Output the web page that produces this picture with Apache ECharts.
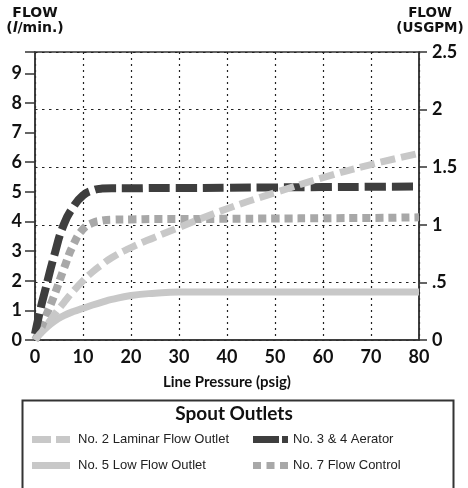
<!DOCTYPE html>
<html>
<head>
<meta charset="utf-8">
<script src="https://cdn.jsdelivr.net/npm/echarts@6/dist/echarts.min.js"></script>
<style>html,body{margin:0;padding:0;background:#fff;}#c{width:468px;height:488px;}</style>
</head>
<body>
<div id="c"></div>
<script>
var pressure = [0, 1, 2, 4, 6, 8, 10, 12, 14, 16, 20, 25, 30, 40, 50, 60, 70, 80];
var laminar  = [0.0, 0.2, 0.4, 0.85, 1.26, 1.65, 2.0, 2.3, 2.55, 2.78, 3.12, 3.47, 3.8, 4.43, 4.97, 5.48, 5.92, 6.3];
var aerator  = [0.2, 0.95, 1.6, 2.85, 3.9, 4.5, 4.88, 5.05, 5.11, 5.12, 5.12, 5.13, 5.13, 5.14, 5.15, 5.16, 5.17, 5.18];
var lowFlow  = [0.05, 0.2, 0.36, 0.63, 0.82, 0.96, 1.07, 1.18, 1.28, 1.37, 1.5, 1.58, 1.62, 1.62, 1.62, 1.62, 1.62, 1.62];
var flowCtrl = [0.0, 0.3, 0.7, 1.5, 2.4, 3.22, 3.74, 3.95, 4.03, 4.06, 4.07, 4.08, 4.08, 4.09, 4.1, 4.11, 4.12, 4.14];
var seriesNames = ['No. 2 Laminar Flow Outlet', 'No. 3 & 4 Aerator', 'No. 5 Low Flow Outlet', 'No. 7 Flow Control'];
var xTicks = [0, 10, 20, 30, 40, 50, 60, 70, 80];
var leftTicks = [0, 1, 2, 3, 4, 5, 6, 7, 8, 9];
var rightTickLabels = {'0': '0', '0.5': '.5', '1': '1', '1.5': '1.5', '2': '2', '2.5': '2.5'};

function pairs(ys) { return pressure.map(function (p, i) { return [p, ys[i]]; }); }

var numFont = 'Lato';
var chart = echarts.init(document.getElementById('c'), null, {renderer: 'canvas'});
var lightGray = '#c8c8c8', midGray = '#a8a8a8', dark = '#3e3e3e';

var option = {
  animation: false,
  backgroundColor: '#fff',
  title: {
    text: 'Spout Outlets',
    left: 'center',
    top: 404,
    padding: [0, 0, 0, 9],
    textStyle: {fontFamily: numFont, fontWeight: 'bold', fontSize: 19, color: '#111'}
  },
  graphic: [{
    type: 'rect', left: 20, top: 398, z: -1,
    shape: {x: 0, y: 0, width: 431, height: 89},
    style: {fill: 'none', stroke: '#333', lineWidth: 2}
  }],
  legend: [{
    orient: 'vertical', left: 32, top: 433, itemGap: 13, padding: 0,
    itemWidth: 38, itemHeight: 7,
    textStyle: {fontFamily: 'Liberation Sans', fontSize: 13, color: '#222', padding: [0, 0, 0, 3]},
    data: [
      {name: seriesNames[0], icon: 'path://M0,0H19V7H0Z M24,0H38V7H24Z', itemStyle: {color: lightGray, borderWidth: 0}},
      {name: seriesNames[2], icon: 'path://M0,0H38V7H0Z', itemStyle: {color: lightGray, borderWidth: 0}}
    ]
  }, {
    orient: 'vertical', left: 253, top: 433, itemGap: 13, padding: 0,
    itemWidth: 35, itemHeight: 7,
    textStyle: {fontFamily: 'Liberation Sans', fontSize: 13, color: '#222'},
    data: [
      {name: seriesNames[1], icon: 'path://M0,0H26V7H0Z M29,0H35V7H29Z', itemStyle: {color: dark, borderWidth: 0}},
      {name: seriesNames[3], icon: 'path://M0,0H8V7H0Z M13.5,0H21.5V7H13.5Z M27,0H35V7H27Z', itemStyle: {color: midGray, borderWidth: 0}}
    ]
  }],
  grid: {left: 35, right: 49, top: 52, bottom: 148, show: true, borderColor: '#333', borderWidth: 1.5, containLabel: false},
  xAxis: {
    type: 'value', min: 0, max: 80, interval: 10,
    name: 'Line Pressure (psig)', nameLocation: 'middle', nameGap: 35,
    nameTextStyle: {fontFamily: numFont, fontWeight: 'bold', fontSize: 15, color: '#111'},
    axisLine: {show: true, lineStyle: {color: '#333', width: 1.5}},
    axisTick: {show: false},
    axisLabel: {fontFamily: numFont, fontWeight: 'bold', fontSize: 18, color: '#111', margin: 8,
      formatter: function (v) { return xTicks.indexOf(v) >= 0 ? String(v) : ''; }},
    splitLine: {show: true, lineStyle: {color: '#222', width: 1.2, type: [2, 4]}}
  },
  yAxis: [{
    type: 'value', min: 0, max: 9.72, interval: 1, position: 'left',
    name: '{b|FLOW}\n{b|(}{i|l}{b|/min.)}', nameLocation: 'end', nameGap: 16,
    nameTextStyle: {
      align: 'center',
      rich: {
        b: {fontFamily: 'DejaVu Sans', fontWeight: 'bold', fontSize: 14, color: '#111', lineHeight: 15},
        i: {fontFamily: 'DejaVu Sans', fontWeight: 'bold', fontStyle: 'italic', fontSize: 14, color: '#111', lineHeight: 15}
      }
    },
    axisLine: {show: true, lineStyle: {color: '#333', width: 1.5}},
    axisTick: {show: true, length: 10, lineStyle: {color: '#333', width: 1.5}},
    axisLabel: {fontFamily: numFont, fontWeight: 'bold', fontSize: 18, color: '#111', margin: 13,
      formatter: function (v) { return leftTicks.indexOf(v) >= 0 ? String(v) : ''; }},
    splitLine: {show: false}
  }, {
    type: 'value', min: 0, max: 2.5, interval: 0.5, position: 'right',
    name: '{b|FLOW}\n{b|(USGPM)}', nameLocation: 'end', nameGap: 16,
    nameTextStyle: {
      align: 'center', padding: [0, 0, 0, 22],
      rich: {b: {fontFamily: 'DejaVu Sans', fontWeight: 'bold', fontSize: 13.5, color: '#111', lineHeight: 15}}
    },
    axisLine: {show: true, lineStyle: {color: '#333', width: 1.5}},
    axisTick: {show: true, length: 8, lineStyle: {color: '#333', width: 1.5}},
    axisLabel: {fontFamily: numFont, fontWeight: 'bold', fontSize: 18, color: '#111', margin: 13,
      formatter: function (v) { var k = String(v); return rightTickLabels.hasOwnProperty(k) ? rightTickLabels[k] : ''; }},
    splitLine: {show: true, lineStyle: {color: '#222', width: 1.2, type: [2.5, 4.5]}}
  }],
  series: [
    {name: seriesNames[2], type: 'line', yAxisIndex: 0, data: pairs(lowFlow), smooth: 0.5,
      symbol: 'none', lineStyle: {color: lightGray, width: 7, cap: 'butt', join: 'round'}, itemStyle: {color: lightGray}},
    {name: seriesNames[3], type: 'line', yAxisIndex: 0, data: pairs(flowCtrl), smooth: 0.5,
      symbol: 'none', lineStyle: {color: midGray, width: 8, type: [8, 5], cap: 'butt', join: 'round'}, itemStyle: {color: midGray}},
    {name: seriesNames[1], type: 'line', yAxisIndex: 0, data: pairs(aerator), smooth: 0.5,
      symbol: 'none', lineStyle: {color: dark, width: 8, type: [21, 6], cap: 'butt', join: 'round'}, itemStyle: {color: dark}},
    {name: seriesNames[0], type: 'line', yAxisIndex: 0, data: pairs(laminar), smooth: 0.5,
      symbol: 'none', lineStyle: {color: lightGray, width: 7, type: [15, 6], cap: 'butt', join: 'round'}, itemStyle: {color: lightGray}}
  ]
};
chart.setOption(option);
</script>
</body>
</html>
